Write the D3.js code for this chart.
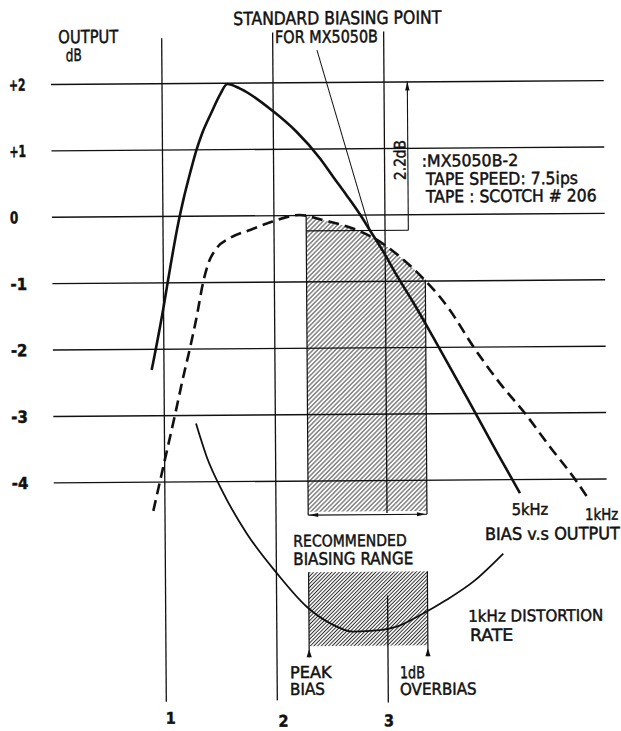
<!DOCTYPE html>
<html><head><meta charset="utf-8">
<script src="https://cdn.jsdelivr.net/npm/d3@7"></script>
<style>
body{margin:0;background:#fff}
svg{display:block;background:#fff}
text{font-family:"DejaVu Sans Condensed","Liberation Sans Narrow","DejaVu Sans",sans-serif;fill:#111;stroke:#111;stroke-width:0.45px}
</style>
</head><body>
<svg id="c" width="621" height="731"></svg>
<script>
// ---------- data ----------
const biasTicks = [1, 2, 3];
const biasTickLabels = ["1", "2", "3"];
const dbTicks = [2, 1, 0, -1, -2, -3, -4];
const dbTickLabels = ["+2", "+1", "0", "-1", "-2", "-3", "-4"];

// 5kHz bias vs output (solid)
const out5kBias = [0.889,0.997,1.044,1.139,1.185,1.247,1.308,1.354,1.446,1.522,1.588,1.703,2.003,2.211,2.419,2.537,2.657,2.776,2.865,2.983,3.103,3.25,3.429,3.725,4.022,4.199];
const out5kDb   = [-2.32,-1.40,-0.95,-0.10,0.24,0.64,1.00,1.22,1.56,1.82,1.98,1.91,1.56,1.25,0.85,0.57,0.29,0.00,-0.24,-0.56,-0.92,-1.33,-1.86,-2.76,-3.68,-4.21];

// 1kHz bias vs output (dashed)
const out1kBias = [0.895,0.987,1.096,1.174,1.236,1.298,1.360,1.406,1.483,1.603,1.784,1.98,2.23,2.442,2.745,2.924,3.133,3.342,3.491,3.58,3.788,4.028,4.249,4.473,4.680,4.814];
const out1kDb   = [-4.44,-3.78,-3.00,-2.42,-1.99,-1.52,-0.99,-0.72,-0.49,-0.34,-0.22,-0.10,0.00,-0.08,-0.23,-0.38,-0.64,-0.97,-1.25,-1.45,-2.00,-2.56,-3.01,-3.52,-3.97,-4.30];

// 1kHz distortion rate (drawn on the same vertical scale, no own axis)
const distBias  = [1.285,1.379,1.527,1.735,2.003,2.271,2.479,2.689,2.930,3.080,3.291,3.532,3.773,4.045];
const distLevel = [-3.13,-3.63,-4.18,-4.79,-5.39,-5.90,-6.15,-6.28,-6.26,-6.21,-6.04,-5.81,-5.54,-5.12];

// recommended biasing range: peak bias .. 1dB overbias
const recommendedRange = [2.29, 3.36];
const rangeTopDb = [-0.01, -0.99];     // 1kHz output at the range edges
const standardPoint = [2.865, -0.24];  // standard biasing point
const peak5k = 2;                       // 5kHz peak level (+2 dB)
const dimBias = 3.21;                   // position of the 2.2dB dimension

// ---------- layout ----------
const x = d3.scaleLinear().domain([1, 3]).range([164, 386]);
const y = d3.scaleLinear().domain([2, -4]).range([82, 480.4]);
const gridExtent = [0, 4.98];
const hatchBottomDb = -4.47, rangeDimDb = -4.52;
const box2Top = 572, box2Bottom = 646, markerBottom = 657;
const vTop = [37, 32, 32], vBottom = [700.5, 700, 703];
const line3Gap = [513.5, 596];
const tickLabelDx = [4.2, 6.1, 0.5], tickLabelY = [722.5, 726.5, 726.5];

const svg = d3.select("#c");
const defs = svg.append("defs");
function hatch(id, gap, sw, col) {
  const p = defs.append("pattern").attr("id", id)
    .attr("patternUnits", "userSpaceOnUse")
    .attr("width", gap).attr("height", gap)
    .attr("patternTransform", "rotate(45)");
  p.append("line").attr("x1", gap / 2).attr("x2", gap / 2)
    .attr("y1", -1).attr("y2", gap + 1)
    .attr("stroke", col).attr("stroke-width", sw);
}
hatch("h1", 3.2, 0.85, "#222");
hatch("h2", 2.6, 1.0, "#2a2a2a");

defs.append("clipPath").attr("id", "cr").append("rect")
  .attr("x", x(recommendedRange[0])).attr("y", 0)
  .attr("width", x(recommendedRange[1]) - x(recommendedRange[0]))
  .attr("height", 731);

const g = svg.append("g").attr("transform", "rotate(-0.4 330 370)");
const ink = "#111";

const out1k = out1kBias.map((b, i) => [b, out1kDb[i]]);
const out5k = out5kBias.map((b, i) => [b, out5kDb[i]]);
const dist = distBias.map((b, i) => [b, distLevel[i]]);

// hatched region under 1kHz curve
g.append("path").datum(out1k)
  .attr("d", d3.area().x(d => x(d[0])).y0(y(hatchBottomDb)).y1(d => y(d[1])).curve(d3.curveMonotoneX))
  .attr("fill", "url(#h1)").attr("clip-path", "url(#cr)");

// second hatched box (recommended biasing range)
g.append("rect")
  .attr("x", x(recommendedRange[0])).attr("y", box2Top)
  .attr("width", x(recommendedRange[1]) - x(recommendedRange[0]))
  .attr("height", box2Bottom - box2Top)
  .attr("fill", "url(#h2)");

// horizontal grid via axis
const yAxis = d3.axisLeft(y).tickValues(dbTicks)
  .tickFormat((d, i) => dbTickLabels[i])
  .tickSize(-(x(gridExtent[1]) - x(gridExtent[0])));
const ga = g.append("g").attr("transform", `translate(${x(gridExtent[0])},0)`).call(yAxis);
ga.select(".domain").remove();
ga.selectAll(".tick line").attr("stroke", ink).attr("stroke-width", 1.4);
ga.selectAll(".tick text")
  .attr("x", 11 - x(gridExtent[0])).attr("dy", null).attr("y", 6)
  .attr("text-anchor", "start")
  .style("font-family", '"DejaVu Sans Condensed","Liberation Sans Narrow","DejaVu Sans",sans-serif')
  .style("font-size", "16.5px").style("font-weight", "bold").attr("fill", ink)
  .attr("textLength", (d, i) => dbTickLabels[i].length * 8.3)
  .attr("lengthAdjust", "spacingAndGlyphs");

// vertical bias lines
biasTicks.forEach((b, i) => {
  if (i === 2) {
    g.append("line").attr("x1", x(b)).attr("x2", x(b)).attr("y1", vTop[i]).attr("y2", line3Gap[0])
      .attr("stroke", ink).attr("stroke-width", 1.3);
    g.append("line").attr("x1", x(b)).attr("x2", x(b)).attr("y1", line3Gap[1]).attr("y2", vBottom[i])
      .attr("stroke", ink).attr("stroke-width", 1.3);
  } else {
    g.append("line").attr("x1", x(b)).attr("x2", x(b)).attr("y1", vTop[i]).attr("y2", vBottom[i])
      .attr("stroke", ink).attr("stroke-width", 1.3);
  }
  g.append("text").attr("x", x(b) + tickLabelDx[i]).attr("y", tickLabelY[i])
    .attr("text-anchor", "middle").style("font-size", "16px").style("font-weight", "bold")
    .text(biasTickLabels[i]);
});

// hatch 1 edges and dimension line
recommendedRange.forEach((b, i) => {
  g.append("line").attr("x1", x(b)).attr("x2", x(b))
    .attr("y1", y(rangeTopDb[i])).attr("y2", y(rangeDimDb))
    .attr("stroke", ink).attr("stroke-width", 1.2);
});
g.append("line").attr("x1", x(recommendedRange[0])).attr("x2", x(recommendedRange[1]))
  .attr("y1", y(rangeDimDb)).attr("y2", y(rangeDimDb)).attr("stroke", ink).attr("stroke-width", 1.1);

function arrow(px, py, dir, len = 8, hw = 2.4) {
  let p;
  if (dir === "up") p = [[px, py], [px - hw, py + len], [px + hw, py + len]];
  if (dir === "left") p = [[px, py], [px + len, py - hw], [px + len, py + hw]];
  if (dir === "right") p = [[px, py], [px - len, py - hw], [px - len, py + hw]];
  g.append("path").attr("d", "M" + p.join("L") + "Z").attr("fill", ink);
}
arrow(x(recommendedRange[0]) + 1, y(rangeDimDb), "left", 9, 2);
arrow(x(recommendedRange[1]) - 1, y(rangeDimDb), "right", 9, 2);

// markers for recommended range (peak bias / 1dB overbias)
recommendedRange.forEach(b => {
  g.append("line").attr("x1", x(b)).attr("x2", x(b)).attr("y1", box2Top).attr("y2", markerBottom)
    .attr("stroke", ink).attr("stroke-width", 1.2);
  arrow(x(b), markerBottom - 8, "up", 8, 2.6);
});

// curves
const line = d3.line().x(d => x(d[0])).y(d => y(d[1])).curve(d3.curveMonotoneX);
g.append("path").datum(out1k).attr("d", line).attr("fill", "none")
  .attr("stroke", ink).attr("stroke-width", 2.6).attr("stroke-dasharray", "11,6");
g.append("path").datum(out5k).attr("d", line).attr("fill", "none")
  .attr("stroke", ink).attr("stroke-width", 2.6);
g.append("path").datum(dist).attr("d", line).attr("fill", "none")
  .attr("stroke", ink).attr("stroke-width", 1.8);

// 2.2dB dimension
g.append("line").attr("x1", x(recommendedRange[0])).attr("x2", x(dimBias))
  .attr("y1", y(standardPoint[1])).attr("y2", y(standardPoint[1]))
  .attr("stroke", ink).attr("stroke-width", 1.1);
g.append("line").attr("x1", x(dimBias)).attr("x2", x(dimBias))
  .attr("y1", y(peak5k)).attr("y2", y(standardPoint[1]))
  .attr("stroke", ink).attr("stroke-width", 1.1);
arrow(x(dimBias), y(peak5k), "up", 9, 2.2);
g.append("text").attr("transform", "translate(401.5,160.5) rotate(-90)")
  .attr("y", 5.5).attr("text-anchor", "middle").style("font-size", "16px")
  .attr("textLength", 40).attr("lengthAdjust", "spacingAndGlyphs").text("2.2dB");

// pointer to standard biasing point
g.append("line").attr("x1", 319.2).attr("y1", 50)
  .attr("x2", x(standardPoint[0])).attr("y2", y(standardPoint[1]))
  .attr("stroke", ink).attr("stroke-width", 1.0);

// text annotations
const labels = [
  {t: "OUTPUT", x: 60.6, y: 41.4, w: 60, s: 18},
  {t: "dB", x: 67.9, y: 59.3, w: 16, s: 17},
  {t: "STANDARD BIASING POINT", x: 235.7, y: 24.3, w: 208, s: 18},
  {t: "FOR MX5050B", x: 277.3, y: 42.6, w: 103, s: 17},
  {t: ":MX5050B-2", x: 423.1, y: 167.3, w: 96.6, s: 16.5},
  {t: "TAPE SPEED: 7.5ips", x: 427.3, y: 185.7, w: 152, s: 17},
  {t: "TAPE : SCOTCH # 206", x: 427.2, y: 203.2, w: 170.7, s: 17},
  {t: "5kHz", x: 510.7, y: 516.3, w: 36.6, s: 16},
  {t: "1kHz", x: 584, y: 521.8, w: 33.3, s: 16},
  {t: "BIAS v.s OUTPUT", x: 483.8, y: 541.1, w: 135, s: 17},
  {t: "RECOMMENDED", x: 292.1, y: 546.4, w: 113.4, s: 16},
  {t: "BIASING RANGE", x: 291.9, y: 564.7, w: 120, s: 17},
  {t: "1kHz DISTORTION", x: 466.5, y: 622.7, w: 135, s: 16},
  {t: "RATE", x: 468.1, y: 642, w: 43.3, s: 17},
  {t: "PEAK", x: 287.8, y: 677.9, w: 41.7, s: 16.5},
  {t: "BIAS", x: 287.7, y: 694.7, w: 35, s: 16.5},
  {t: "1dB", x: 397.8, y: 678.8, w: 25, s: 16.5},
  {t: "OVERBIAS", x: 397.7, y: 695.5, w: 76.7, s: 16.5}
];
g.selectAll("text.lab").data(labels).enter().append("text").attr("class", "lab")
  .attr("x", d => d.x).attr("y", d => d.y)
  .style("font-size", d => d.s + "px")
  .attr("textLength", d => d.w).attr("lengthAdjust", "spacingAndGlyphs")
  .text(d => d.t);
</script>
</body></html>
